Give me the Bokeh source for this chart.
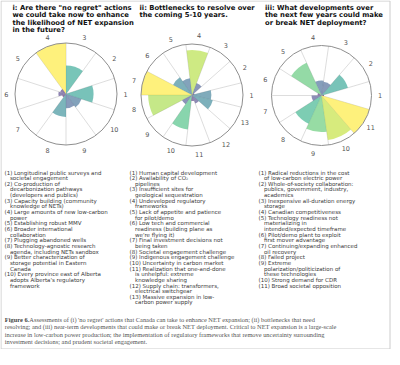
import math
from bokeh.plotting import figure
from bokeh.models import Range1d, ColumnDataSource
from bokeh.core.properties import value
from bokeh.palettes import Viridis256
from bokeh.embed import file_html
from bokeh.resources import INLINE

# ---------------- data ----------------
title_i = ['i: Are there "no regret" actions', 'we could take now to enhance',
           'the likelihood of NET expansion', 'in the future?']
title_ii = ['ii: Bottlenecks to resolve over', 'the coming 5-10 years.']
title_iii = ['iii: What developments over', 'the next few years could make',
             'or break NET deployment?']

values_i = [0.54, 0.02, 0.56, 1.0, 0.12, 0.15, 0.08, 0.45, 0.28, 0.32]
values_ii = [0.38, 0.05, 0.25, 0.88, 0.33, 0.42, 1.0, 0.86, 0.22, 0.68, 0.12, 0.18, 0.42]
values_iii = [0.05, 0.55, 0.28, 0.30, 0.72, 0.08, 0.20, 0.62, 0.73, 0.90, 1.0]

items_i = [
    ["(1) Longitudinal public surveys and", "societal engagement"],
    ["(2) Co-production of", "decarbonization pathways", "(developers and publics)"],
    ["(3) Capacity building (community", "knowledge of NETs)"],
    ["(4) Large amounts of new low-carbon", "power"],
    ["(5) Establishing robust MMV"],
    ["(6) Broader international", "collaboration"],
    ["(7) Plugging abandoned wells"],
    ["(8) Technology-agnostic research", "agenda, including NETs sandbox"],
    ["(9) Better characterization of", "storage potential in Eastern", "Canada"],
    ["(10) Every province east of Alberta", "adopts Alberta's regulatory", "framework"],
]
items_ii = [
    ["(1) Human capital development"],
    ["(2) Availability of CO\u2082", "pipelines"],
    ["(3) Insufficient sites for", "geological sequestration"],
    ["(4) Undeveloped regulatory", "frameworks"],
    ["(5) Lack of appetite and patience", "for pilot/demo"],
    ["(6) Low tech and commercial", "readiness (building plane as", "we're flying it)"],
    ["(7) Final investment decisions not", "being taken"],
    ["(8) Societal engagement challenge"],
    ["(9) Indigenous engagement challenge"],
    ["(10) Uncertainty in carbon market"],
    ["(11) Realization that one-and-done", "is unhelpful: extreme", "knowledge sharing"],
    ["(12) Supply chain: transformers,", "electrical switchgear"],
    ["(13) Massive expansion in low-", "carbon power supply"],
]
items_iii = [
    ["(1) Radical reductions in the cost", "of low-carbon electric power"],
    ["(2) Whole-of-society collaboration:", "publics, government, industry,", "academics"],
    ["(3) Inexpensive all-duration energy", "storage"],
    ["(4) Canadian competitiveness"],
    ["(5) Technology readiness not", "materializing in", "intended/expected timeframe"],
    ["(6) Pilot/demo plant to exploit", "first mover advantage"],
    ["(7) Continuing/expanding enhanced", "oil recovery"],
    ["(8) Failed project"],
    ["(9) Extreme", "polarization/politicization of", "these technologies"],
    ["(10) Strong demand for CDR"],
    ["(11) Broad societal opposition"],
]

caption_bold = "Figure 6."
caption_lines = [
    " Assessments of (i) 'no regret' actions that Canada can take to enhance NET expansion; (ii) bottlenecks that need",
    "resolving; and (iii) near-term developments that could make or break NET deployment. Critical to NET expansion is a large-scale",
    "increase in low-carbon power production; the implementation of regulatory frameworks that remove uncertainty surrounding",
    "investment decisions; and prudent societal engagement.",
]

# ---------------- layout ----------------
H = 365.0
def Y(y):
    return H - y

p = figure(width=392, height=349, x_range=Range1d(8, 400), y_range=Range1d(8, 357),
           output_backend="svg", toolbar_location=None, min_border=0)
p.axis.visible = False
p.grid.visible = False
p.outline_line_color = None
p.background_fill_color = "white"
p.border_fill_color = "white"

# frame
p.quad(left=[8.5], right=[397.5], top=[Y(8.5)], bottom=[Y(356.5)],
       fill_color=None, line_color="#cccccc", line_width=1)

FONT = value("DejaVu Sans")

def panel(cx, cy, R, vals, title, tx, items, lx):
    n = len(vals)
    w = 2 * math.pi / n
    vmax = max(vals)
    # grid lines at sector boundaries
    x0, y0, x1, y1 = [], [], [], []
    for k in range(n):
        a = k * w - w / 2
        x0.append(cx); y0.append(Y(cy))
        x1.append(cx + R * math.cos(a)); y1.append(Y(cy) + R * math.sin(a))
    p.segment(x0=x0, y0=y0, x1=x1, y1=y1, line_color="#d4d4d4", line_width=0.8)
    # wedges
    src = ColumnDataSource(dict(
        x=[cx] * n, y=[Y(cy)] * n,
        r=[R * v / vmax for v in vals],
        s=[k * w - w / 2 for k in range(n)],
        e=[k * w + w / 2 for k in range(n)],
        c=[Viridis256[int(round(v / vmax * 255))] for v in vals],
    ))
    p.wedge(x="x", y="y", radius="r", start_angle="s", end_angle="e", source=src,
            fill_color="c", fill_alpha=0.6, line_color=None)
    # outer circle
    p.circle(x=[cx], y=[Y(cy)], radius=R, fill_color=None, line_color="#8f8f8f", line_width=1)
    # angular labels
    lxs, lys, lts = [], [], []
    for k in range(n):
        a = k * w
        lxs.append(cx + 1.17 * R * math.cos(a))
        lys.append(Y(cy) + 1.17 * R * math.sin(a))
        lts.append(str(k + 1))
    p.text(x=lxs, y=lys, text=lts, text_font=FONT, text_font_size="6.5px",
           text_color="#555555", text_align="center", text_baseline="middle")
    # title
    p.text(x=[tx] * len(title), y=[Y(15.3 + 7.4 * i) for i in range(len(title))], text=title,
           text_font=FONT, text_font_size="6.8px", text_font_style="bold",
           text_color="#111111", text_align="left", text_baseline="middle")
    # list
    xs, ys, ts = [], [], []
    row = 0
    for it in items:
        for j, line in enumerate(it):
            xs.append(lx if j == 0 else lx + 5.5)
            ys.append(Y(180.0 + 5.65 * row))
            ts.append(line)
            row += 1
    p.text(x=xs, y=ys, text=ts, text_font=FONT, text_font_size="5.5px",
           text_color="#3a3a3a", text_align="left", text_baseline="middle")

panel(73.5, 101.5, 51, values_i, title_i, 20, items_i, 12)
panel(199.5, 102.5, 51, values_ii, title_ii, 147, items_ii, 137)
panel(329, 103, 50, values_iii, title_iii, 272.5, items_iii, 266)

# caption
SERIF = value("Liberation Serif")
p.text(x=[12.3], y=[Y(326.7)], text=[caption_bold], text_font=SERIF, text_font_size="6.4px",
       text_font_style="bold", text_color="#444444", text_align="left", text_baseline="middle")
p.text(x=[12.3 + 24.5], y=[Y(326.7)], text=[caption_lines[0]], text_font=SERIF, text_font_size="6.4px",
       text_color="#555555", text_align="left", text_baseline="middle")
p.text(x=[12.3] * 3, y=[Y(326.7 + 7.5 * i) for i in range(1, 4)], text=caption_lines[1:],
       text_font=SERIF, text_font_size="6.4px", text_color="#555555",
       text_align="left", text_baseline="middle")

open("out.html", "w").write(file_html(p, INLINE))
